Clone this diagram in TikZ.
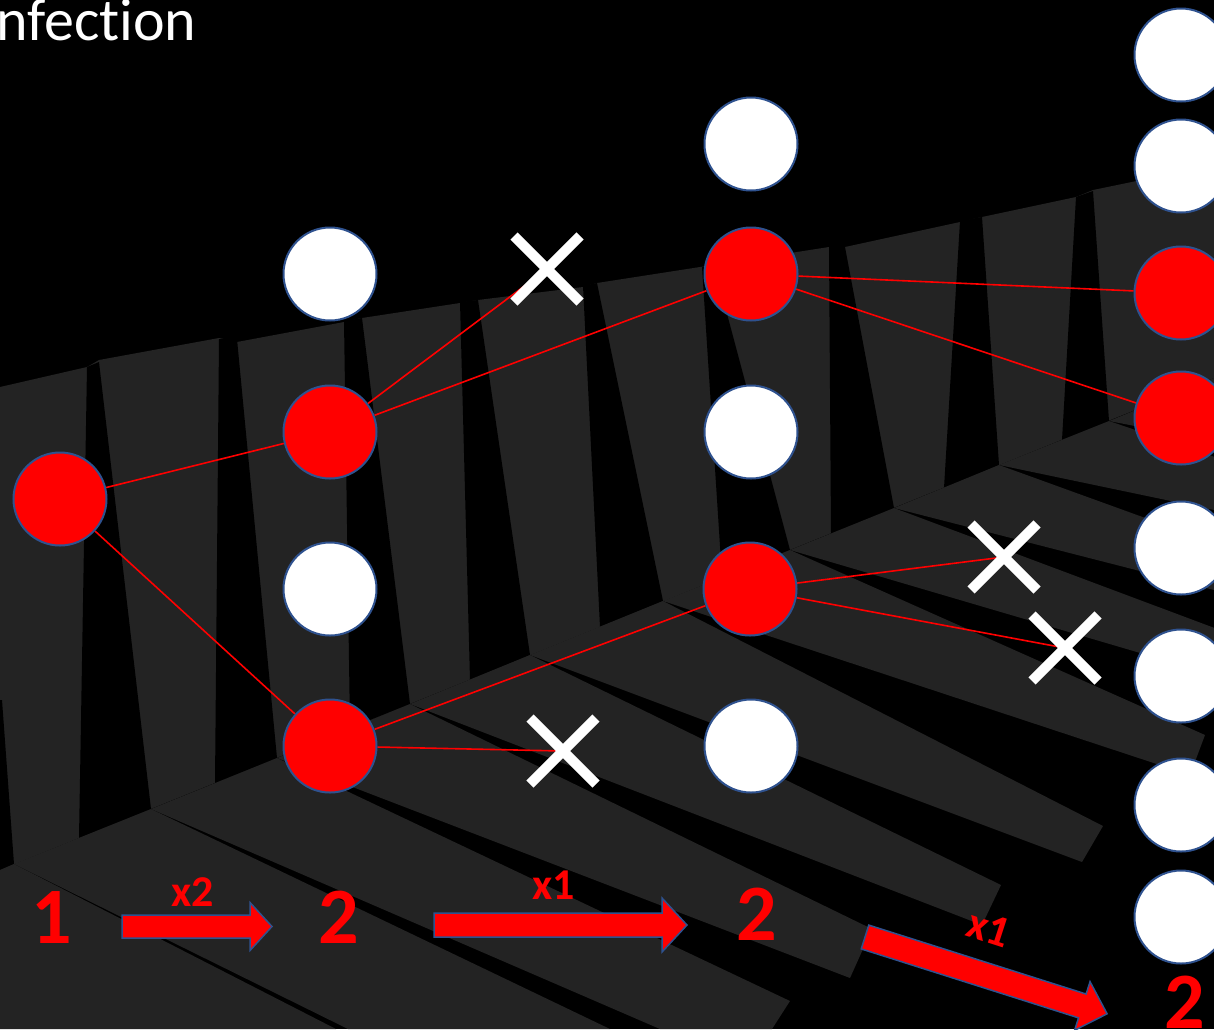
\documentclass[tikz,border=0pt]{standalone}
\usepackage{fontspec}
\setmainfont{Carlito}[Ligatures=NoCommon]
\usetikzlibrary{shapes.misc}

\definecolor{shadowgray}{HTML}{232323}
\definecolor{rimblue}{HTML}{2F528F}
\definecolor{hotred}{HTML}{FF0000}

\pgfdeclarelayer{shadow}
\pgfdeclarelayer{links}
\pgfsetlayers{shadow,links,main}

\tikzset{
  cell/.style={circle, draw=rimblue, line width=2pt, minimum size=93pt, inner sep=0pt},
  infected/.style={cell, fill=hotred},
  healthy/.style={cell, fill=white},
  blocked/.style={cross out, draw=white, line width=10pt, minimum size=56pt, inner sep=0pt},
  link/.style={draw=hotred, line width=1.6pt},
  count/.style={text=hotred, font=\fontsize{80}{80}\selectfont\bfseries, inner sep=0pt, anchor=base},
  factor/.style={text=hotred, font=\fontsize{44}{44}\selectfont\bfseries, inner sep=0pt, anchor=base},
  arrowbody/.style={fill=hotred, draw=rimblue, line width=1.5pt, line join=miter},
  fence/.style={fill=shadowgray},
  gap/.style={fill=black},
  pics/bigarrow/.style args={#1/#2/#3/#4}{code={
    \path[arrowbody] (0,-#2/2) -- (#1-#4,-#2/2) -- (#1-#4,-#3/2) -- (#1,0)
      -- (#1-#4,#3/2) -- (#1-#4,#2/2) -- (0,#2/2) -- cycle;}},
}

\begin{document}
\begin{tikzpicture}[x=1pt, y=-1pt]
\useasboundingbox (0,0) rectangle (1214,1029);

% ---------- fence shadow on wall and floor ----------
\begin{pgfonlayer}{shadow}
  \fill[black] (0,0) rectangle (1214,1029);
  % pickets on the wall
  \fill[fence] (0,387) -- (87,367) -- (99,360) -- (219,338) -- (237,342) -- (344,322)
    -- (362,318) -- (460,303) -- (478,300) -- (583,287) -- (597,283) -- (700,267)
    -- (714,265) -- (829,247) -- (845,247) -- (960,222) -- (982,217) -- (1076,197)
    -- (1093,190) -- (1214,165) -- (1214,378) -- (0,870) -- cycle;
  % slots between the pickets
  \fill[gap] (0,700) -- (2,700) -- (14,864) -- (0,870) -- cycle;
  \fill[gap] (87,367) -- (99,362) -- (151,809) -- (79,838) -- cycle;
  \fill[gap] (219,339) -- (237,339) -- (277,758) -- (215,783) -- cycle;
  \fill[gap] (344,321) -- (362,318) -- (410,704) -- (350,728) -- cycle;
  \fill[gap] (460,302) -- (478,300) -- (530,655) -- (470,680) -- cycle;
  \fill[gap] (583,286) -- (597,283) -- (663,601) -- (600,627) -- cycle;
  \fill[gap] (702,267) -- (714,265) -- (790,550) -- (722,577) -- cycle;
  \fill[gap] (829,247) -- (845,247) -- (894,508) -- (831,534) -- cycle;
  \fill[gap] (960,221) -- (982,217) -- (999,465) -- (944,488) -- cycle;
  \fill[gap] (1076,197) -- (1093,191) -- (1109,421) -- (1062,440) -- cycle;
  % picket shadows on the floor
  \fill[fence] (0,870) -- (14,864) -- (336,1029) -- (0,1029) -- cycle;
  \fill[fence] (14,864) -- (151,809) -- (610,1029) -- (348,1029) -- cycle;
  \fill[fence] (151,809) -- (277,758) -- (790,1001) -- (772,1029) -- (660,1029) -- cycle;
  \fill[fence] (277,758) -- (410,704) -- (872,929) -- (850,978) -- cycle;
  \fill[fence] (410,704) -- (530,655) -- (1001,885) -- (982,925) -- cycle;
  \fill[fence] (530,655) -- (663,601) -- (1103,826) -- (1082,862) -- cycle;
  \fill[fence] (663,601) -- (790,550) -- (1205,735) -- (1190,775) -- cycle;
  \fill[fence] (790,550) -- (894,508) -- (1300,660) -- (1300,700) -- cycle;
  \fill[fence] (894,508) -- (999,465) -- (1300,574) -- (1300,612) -- cycle;
  \fill[fence] (999,465) -- (1109,421) -- (1300,486) -- (1300,528) -- cycle;
  \fill[fence] (1109,421) -- (1214,378) -- (1300,406) -- (1300,458) -- cycle;
\end{pgfonlayer}

% ---------- heading ----------
\node[text=white, font=\fontsize{60}{60}\selectfont, anchor=base west, inner sep=0pt]
  (title) at (-4,40) {nfection};

% ---------- generation 0 ----------
\node[infected] (a0) at (60,499) {};

% ---------- generation 1 ----------
\node[healthy]  (b1) at (330,274) {};
\node[infected] (b2) at (330,432) {};
\node[healthy]  (b3) at (330,589) {};
\node[infected] (b4) at (330,746) {};

% ---------- generation 2 ----------
\node[healthy]  (c1) at (751,144) {};
\node[infected] (c2) at (751,274) {};
\node[healthy]  (c3) at (751,432) {};
\node[infected] (c4) at (750,589) {};
\node[healthy]  (c5) at (751,746) {};

% ---------- generation 3 ----------
\node[healthy]  (d1) at (1181,55) {};
\node[healthy]  (d2) at (1181,166) {};
\node[infected] (d3) at (1181,293) {};
\node[infected] (d4) at (1181,418) {};
\node[healthy]  (d5) at (1181,548) {};
\node[healthy]  (d6) at (1181,676) {};
\node[healthy]  (d7) at (1181,805) {};
\node[healthy]  (d8) at (1181,917) {};

% ---------- blocked contacts ----------
\node[blocked] (k1) at (547,269) {};
\node[blocked] (k2) at (563,751) {};
\node[blocked] (k3) at (1004,557) {};
\node[blocked] (k4) at (1065,648) {};

% ---------- transmissions ----------
\begin{pgfonlayer}{links}
  \draw[link] (a0) -- (b2);
  \draw[link] (a0) -- (b4);
  \draw[link] (b2) -- (k1.center);
  \draw[link] (b2) -- (c2);
  \draw[link] (b4) -- (c4);
  \draw[link] (b4) -- (k2.center);
  \draw[link] (c2) -- (d3);
  \draw[link] (c2) -- (d4);
  \draw[link] (c4) -- (k3.center);
  \draw[link] (c4) -- (k4.center);
\end{pgfonlayer}

% ---------- case counts and growth factors ----------
\node[count] (n1) at (52,943) {1};
\node[count] (n2) at (339,943) {2};
\node[count] (n3) at (757,940) {2};
\node[count] (n4) at (1185,1028) {2};

\pic at (122,926.5) {bigarrow=150/23/48/22};
\pic at (434,925) {bigarrow=253/24/54/25};
\pic[rotate=-17.6] at (865,937) {bigarrow=254/25/51/26};

\node[factor] (f1) at (193,906) {x2};
\node[factor] (f2) at (554,899) {x1};
\node[factor, rotate=-18, anchor=center] (f3) at (989,928) {x1};
\end{tikzpicture}
\end{document}
